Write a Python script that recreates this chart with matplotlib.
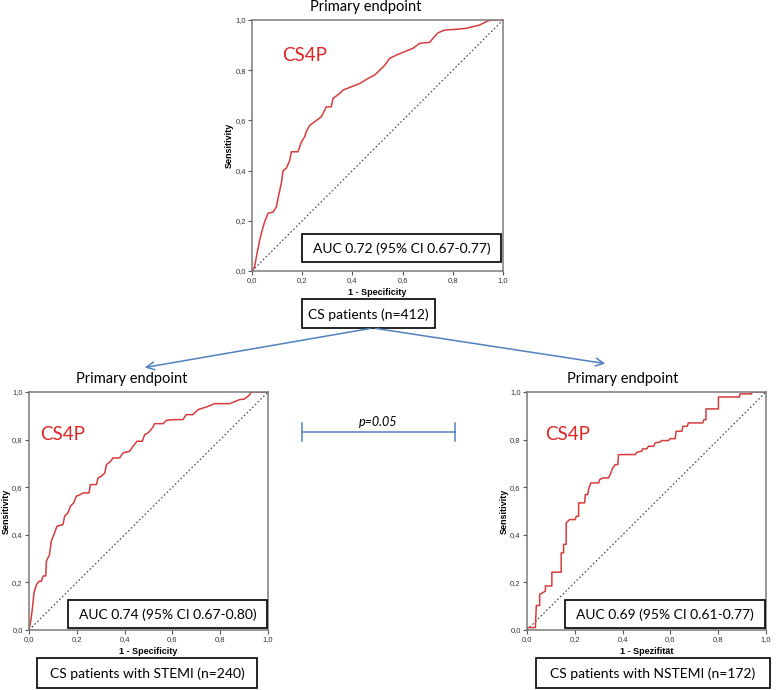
import numpy as np
import matplotlib
matplotlib.use("Agg")
import matplotlib.pyplot as plt
from matplotlib.patches import Rectangle

# ---- data (1 - specificity, sensitivity) ----
all_fpr = [0, 0.01, 0.02, 0.03, 0.04, 0.05, 0.064, 0.084, 0.097, 0.108, 0.117, 0.124,
           0.137, 0.15, 0.157, 0.183, 0.197, 0.21, 0.216, 0.23, 0.25, 0.276, 0.296,
           0.316, 0.323, 0.349, 0.363, 0.396, 0.429, 0.462, 0.489, 0.509, 0.529, 0.548,
           0.575, 0.608, 0.641, 0.668, 0.708, 0.721, 0.741, 0.768, 0.814, 0.854, 0.907,
           0.94, 0.96, 1.0]
all_tpr = [0, 0.016, 0.07, 0.12, 0.16, 0.195, 0.23, 0.235, 0.255, 0.31, 0.35, 0.40,
           0.41, 0.44, 0.475, 0.475, 0.515, 0.535, 0.555, 0.58, 0.595, 0.614, 0.654,
           0.654, 0.688, 0.707, 0.721, 0.734, 0.747, 0.767, 0.781, 0.80, 0.82, 0.847,
           0.86, 0.874, 0.887, 0.907, 0.911, 0.927, 0.949, 0.96, 0.963, 0.967, 0.98,
           0.997, 1.0, 1.0]

stemi_fpr = [0, 0.006, 0.013, 0.021, 0.031, 0.042, 0.052, 0.059, 0.07, 0.073, 0.086,
             0.093, 0.107, 0.117, 0.142, 0.149, 0.163, 0.173, 0.187, 0.198, 0.215,
             0.226, 0.251, 0.257, 0.282, 0.289, 0.303, 0.317, 0.324, 0.342, 0.351,
             0.379, 0.393, 0.421, 0.435, 0.452, 0.474, 0.484, 0.498, 0.516, 0.526,
             0.561, 0.575, 0.603, 0.644, 0.658, 0.686, 0.707, 0.742, 0.777, 0.84,
             0.881, 0.90, 0.92, 0.93, 1.0]
stemi_tpr = [0, 0.03, 0.08, 0.157, 0.19, 0.205, 0.205, 0.227, 0.227, 0.29, 0.317,
             0.373, 0.408, 0.436, 0.443, 0.478, 0.492, 0.52, 0.534, 0.562, 0.569,
             0.576, 0.576, 0.611, 0.611, 0.639, 0.646, 0.66, 0.695, 0.709, 0.723,
             0.723, 0.744, 0.751, 0.772, 0.793, 0.793, 0.821, 0.828, 0.849, 0.867,
             0.867, 0.881, 0.884, 0.884, 0.905, 0.905, 0.926, 0.937, 0.951, 0.951,
             0.968, 0.97, 0.985, 1.0, 1.0]

nstemi_fpr = [0, 0, 0.035, 0.039, 0.053, 0.053, 0.067, 0.077, 0.077, 0.104, 0.104,
              0.143, 0.143, 0.153, 0.153, 0.164, 0.164, 0.178, 0.202, 0.206, 0.216,
              0.216, 0.241, 0.244, 0.254, 0.258, 0.267, 0.3, 0.304, 0.318, 0.341,
              0.348, 0.359, 0.369, 0.38, 0.383, 0.453, 0.46, 0.48, 0.484, 0.501,
              0.508, 0.53, 0.536, 0.557, 0.564, 0.592, 0.599, 0.62, 0.624, 0.648,
              0.652, 0.671, 0.675, 0.735, 0.741, 0.749, 0.749, 0.801, 0.801, 0.889,
              0.891, 0.94, 0.94, 1.0]
nstemi_tpr = [0, 0.01, 0.01, 0.103, 0.103, 0.15, 0.157, 0.164, 0.185, 0.185, 0.243,
              0.243, 0.324, 0.324, 0.36, 0.36, 0.45, 0.464, 0.464, 0.478, 0.478,
              0.534, 0.534, 0.569, 0.569, 0.593, 0.618, 0.618, 0.632, 0.639, 0.639,
              0.653, 0.681, 0.695, 0.695, 0.737, 0.737, 0.747, 0.751, 0.761, 0.761,
              0.772, 0.772, 0.786, 0.79, 0.796, 0.796, 0.804, 0.804, 0.835, 0.835,
              0.856, 0.856, 0.87, 0.87, 0.884, 0.884, 0.929, 0.929, 0.979, 0.979,
              0.992, 0.992, 1.0, 1.0]

auc_labels = ["AUC 0.72 (95% CI 0.67-0.77)",
              "AUC 0.74 (95% CI 0.67-0.80)",
              "AUC 0.69 (95% CI 0.61-0.77)"]
group_labels = ["CS patients (n=412)",
                "CS patients with STEMI (n=240)",
                "CS patients with NSTEMI (n=172)"]
xlabels = ["1 - Specificity", "1 - Specificity", "1 - Spezifität"]
ticks = [0.0, 0.2, 0.4, 0.6, 0.8, 1.0]
tick_labels = ["0,0", "0,2", "0,4", "0,6", "0,8", "1,0"]
p_text = "p=0.05"

W, H = 777, 690
DPI = 100
BODY = "Lato"
RED = "#d63c3c"
BLUE = "#4f81bd"

fig = plt.figure(figsize=(W / DPI, H / DPI), dpi=DPI)


def rect(l, t, r, b):
    return [l / W, 1 - b / H, (r - l) / W, (b - t) / H]


# pixel boxes of the three ROC panels (left, top, right, bottom)
panels = [(252, 20, 503, 271), (29, 392, 268, 630), (527, 392, 766, 630)]
curves = [(all_fpr, all_tpr), (stemi_fpr, stemi_tpr), (nstemi_fpr, nstemi_tpr)]
cs4p_pos = [(0.12, 0.86), (0.048, 0.82), (0.075, 0.82)]

for i, (box, (fx, fy)) in enumerate(zip(panels, curves)):
    ax = fig.add_axes(rect(*box))
    ax.plot([0, 1], [0, 1], color="#404040", lw=0.8, ls=(0, (1.5, 2)))
    ax.plot(fx, fy, color=RED, lw=1.1)
    ax.set_xlim(0, 1)
    ax.set_ylim(0, 1)
    ax.set_xticks(ticks)
    ax.set_yticks(ticks)
    ax.set_xticklabels(tick_labels, family="Liberation Sans", fontsize=5.5, color="#333333")
    ax.set_yticklabels(tick_labels, family="Liberation Sans", fontsize=5.5, color="#333333")
    ax.tick_params(length=3, width=0.8, color="#555555", pad=1.5)
    for sp in ax.spines.values():
        sp.set_color("#7a7a7a")
        sp.set_linewidth(1.1)
    ax.set_xlabel(xlabels[i], family="Liberation Sans", fontweight="bold", fontsize=6.5)
    ax.set_ylabel("Sensitivity", family="Liberation Sans", fontweight="bold", fontsize=6.5)
    wpx = box[2] - box[0]
    ax.yaxis.set_label_coords(-18.5 / wpx, 0.5)
    ax.xaxis.set_label_coords(0.5, -17 / wpx)
    ax.text(*cs4p_pos[i], "CS4P", transform=ax.transAxes,
            color="#e02424", family=BODY, fontsize=13.5, va="center", ha="left")

# overlay in pixel coordinates for titles, boxes, arrows and the p-value bracket
ov = fig.add_axes([0, 0, 1, 1])
ov.set_xlim(0, W)
ov.set_ylim(H, 0)
ov.axis("off")
ov.patch.set_visible(False)

for x, y in [(366, 11), (132, 383), (623, 383)]:
    ov.text(x, y, "Primary endpoint", family=BODY, fontsize=10.5,
            ha="center", va="baseline")

auc_boxes = [(302, 234, 501, 262), (68, 600, 267, 628), (565, 600, 765, 628)]
group_boxes = [(302, 299, 435, 328), (37, 658, 257, 688), (536, 658, 770, 688)]

for (l, t, r, b), s in zip(auc_boxes + group_boxes, auc_labels + group_labels):
    ov.add_patch(Rectangle((l, t), r - l, b - t, fill=True, fc="white", ec="black", lw=1.2))
    ov.text((l + r) / 2, (t + b) / 2 + 1, s, family=BODY, fontsize=10,
            ha="center", va="center")

# arrows from the overall group to the subgroups
for tip in [(142, 368), (608, 364)]:
    ov.annotate("", xy=tip, xytext=(373, 328),
                arrowprops=dict(arrowstyle="->", color=BLUE, lw=1.1,
                                mutation_scale=14))

# p-value bracket between the two subgroup panels
py = 432
ov.plot([302, 455], [py, py], color=BLUE, lw=1.1)
ov.plot([302, 302], [py - 9, py + 9], color=BLUE, lw=1.1)
ov.plot([455, 455], [py - 9, py + 9], color=BLUE, lw=1.1)
ov.text(378, py - 4, p_text, family=BODY, style="italic", fontsize=9,
        ha="center", va="bottom")

fig.savefig("out.png", dpi=DPI, facecolor="white")
